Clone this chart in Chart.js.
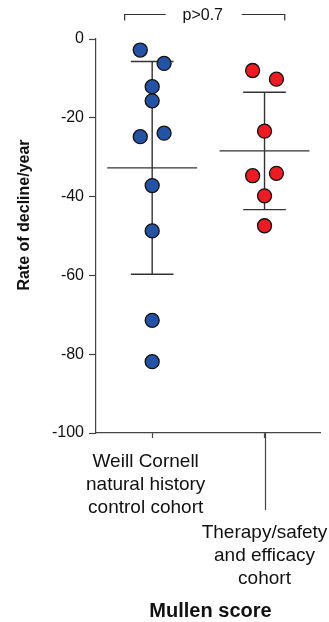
<!DOCTYPE html>
<html>
<head>
<meta charset="utf-8">
<script src="https://cdn.jsdelivr.net/npm/chart.js@4.4.1/dist/chart.umd.min.js"></script>
<style>
  html, body { margin: 0; padding: 0; background: #fff; }
  #wrap { width: 329px; height: 622px; position: relative; }
</style>
</head>
<body>
<div id="wrap"><canvas id="chart"></canvas></div>
<script>
// ── Data ────────────────────────────────────────────────
const categories = [
    ['Weill Cornell', 'natural history', 'control cohort'],
    ['Therapy/safety', 'and efficacy', 'cohort']
];
const categoryX = [1, 2];
const controlValues = [-2.8, -6.2, -12.1, -15.7, -24.8, -23.9, -37.2, -48.7, -71.4, -81.9];
const controlSide   = [-1, 1, 0, 0, -1, 1, 0, 0, 0, 0];
const therapyValues = [-8.0, -10.2, -23.4, -34.7, -34.1, -39.8, -47.4];
const therapySide   = [-1, 1, 0, -1, 1, 0, 0];
const groupMeans = [-32.7, -28.4];
const groupSD = [27.0, 14.9];
const yTicks = [0, -20, -40, -60, -80, -100];
const yTitle = 'Rate of decline/year';
const xTitle = 'Mullen score';
const pLabel = 'p>0.7';

// ── Style ───────────────────────────────────────────────
const FONT = "'Liberation Sans', Arial, sans-serif";
const AXIS = '#444';
const JITTER = 0.106;
const MEAN_HALF = 0.4;
const CAP_HALF = 0.19;

function points(values, sides, i) {
    return values.map((v, k) => ({ x: categoryX[i] + sides[k] * JITTER, y: v }));
}

function barSegments(i) {
    const c = categoryX[i], m = groupMeans[i], s = groupSD[i];
    return [
        { x: c - MEAN_HALF, y: m }, { x: c + MEAN_HALF, y: m }, { x: c, y: null },
        { x: c, y: m + s }, { x: c, y: m - s }, { x: c, y: null },
        { x: c - CAP_HALF, y: m + s }, { x: c + CAP_HALF, y: m + s }, { x: c, y: null },
        { x: c - CAP_HALF, y: m - s }, { x: c + CAP_HALF, y: m - s }
    ];
}

function lineSet(i) {
    return {
        type: 'line', data: barSegments(i), order: 2, clip: false,
        borderColor: '#333', borderWidth: 1.4, pointRadius: 0, spanGaps: false, fill: false
    };
}

function dotSet(data, color) {
    return {
        type: 'scatter', data, order: 1, clip: false,
        backgroundColor: color, borderColor: '#111', borderWidth: 1.3,
        pointRadius: 7, pointHoverRadius: 7
    };
}

// ── Extra drawing: labels, titles, bracket ──────────────
const decorations = {
    id: 'decorations',
    afterDraw(chart) {
        const { ctx, scales: { x, y } } = chart;
        const base = y.getPixelForValue(-100);
        ctx.save();
        ctx.strokeStyle = AXIS;
        ctx.lineWidth = 1.2;

        // long tick under the second group
        const x2 = Math.round(x.getPixelForValue(categoryX[1])) + 0.5;
        ctx.beginPath();
        ctx.moveTo(x2, base);
        ctx.lineTo(x2, base + 77);
        ctx.stroke();

        // category labels
        ctx.fillStyle = '#111';
        ctx.font = `19px ${FONT}`;
        ctx.textAlign = 'center';
        ctx.textBaseline = 'alphabetic';
        const starts = [base + 34, base + 104.5];
        const shifts = [-6.5, 0];
        categories.forEach((lines, i) => {
            const cx = x.getPixelForValue(categoryX[i]) + shifts[i];
            lines.forEach((t, k) => ctx.fillText(t, cx, starts[i] + k * 23));
        });

        // x title
        ctx.font = `bold 20px ${FONT}`;
        ctx.fillText(xTitle, 210.5, 616.5);

        // y title
        ctx.save();
        ctx.translate(25, 215);
        ctx.rotate(-Math.PI / 2);
        ctx.font = `bold 16px ${FONT}`;
        ctx.textBaseline = 'middle';
        ctx.fillText(yTitle, 0, 0);
        ctx.restore();

        // significance bracket
        const bl = x.getPixelForValue(0.755), br = x.getPixelForValue(2.18);
        const mid = x.getPixelForValue(1.45);
        ctx.strokeStyle = '#333';
        ctx.lineWidth = 1.2;
        ctx.beginPath();
        ctx.moveTo(bl, 20.5); ctx.lineTo(bl, 14.5); ctx.lineTo(mid - 37, 14.5);
        ctx.moveTo(mid + 39, 14.5); ctx.lineTo(br, 14.5); ctx.lineTo(br, 20.5);
        ctx.stroke();
        ctx.font = `16px ${FONT}`;
        ctx.textBaseline = 'middle';
        ctx.fillText(pLabel, mid, 16);
        ctx.restore();
    }
};

new Chart(document.getElementById('chart'), {
    data: {
        datasets: [
            lineSet(0),
            lineSet(1),
            dotSet(points(controlValues, controlSide, 0), '#2452a4'),
            dotSet(points(therapyValues, therapySide, 1), '#ec1c24')
        ]
    },
    options: {
        responsive: true,
        maintainAspectRatio: false,
        animation: false,
        layout: { padding: { top: 39, right: 6, left: 0, bottom: 0 } },
        plugins: { legend: { display: false }, tooltip: { enabled: false } },
        scales: {
            x: {
                type: 'linear', min: 0.5, max: 2.5,
                afterBuildTicks: s => { s.ticks = categoryX.map(v => ({ value: v })); },
                afterFit: s => { s.height = 189; },
                grid: { drawOnChartArea: false, drawTicks: true, tickLength: 5, tickColor: AXIS, tickWidth: 1.2 },
                border: { display: true, color: AXIS, width: 1.2 },
                ticks: { display: false }
            },
            y: {
                type: 'linear', min: -100, max: 0,
                afterBuildTicks: s => { s.ticks = yTicks.map(v => ({ value: v })); },
                afterFit: s => { s.width = 96; },
                grid: { drawOnChartArea: false, drawTicks: true, tickLength: 7, tickColor: AXIS, tickWidth: 1.2 },
                border: { display: true, color: AXIS, width: 1.2 },
                ticks: { color: '#111', font: { family: FONT, size: 16 }, padding: 5 }
            }
        }
    },
    plugins: [decorations]
});
</script>
</body>
</html>
